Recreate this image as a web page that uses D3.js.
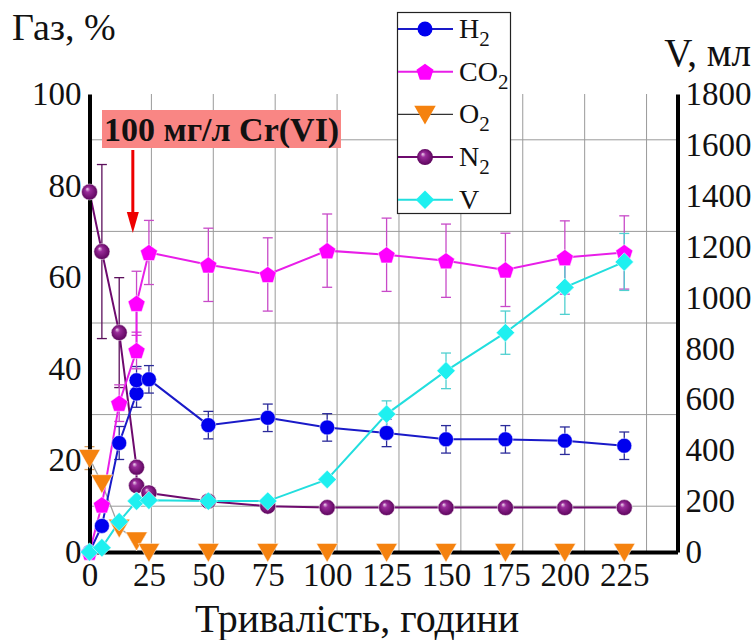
<!DOCTYPE html>
<html>
<head>
<meta charset="utf-8">
<script src="https://cdn.jsdelivr.net/npm/d3@7"></script>
<style>
  body { margin: 0; background: #fff; }
  svg { display: block; }
  text { font-family: "Liberation Serif", "Times New Roman", serif; fill: #111; }
</style>
</head>
<body>
<svg id="chart" width="755" height="640"></svg>
<script>
// Sampling times, hours
const hours = [0, 5, 12, 19, 19, 24, 48, 72, 96, 120, 144, 168, 192, 216];

// Gas composition, % (left axis)
const h2     = [0, 5.7, 23.8, 34.6, 37.5, 37.7, 27.7, 29.3, 27.2, 26.0, 24.6, 24.6, 24.3, 23.2];
const h2Err  = [0, 0, 3.6, 3, 3, 3, 3, 3, 3, 3, 3, 3, 3, 3];
const co2    = [0, 10.3, 32.5, 44.0, 54.3, 65.4, 62.7, 60.6, 65.8, 64.9, 63.6, 61.6, 64.3, 65.4];
const co2Err = [0, 0, 4, 4, 7, 7, 8, 8, 8, 8, 8, 8, 8, 8];
const o2     = [20.5, 15.0, 5.3, 2.5, 2.5, 0, 0, 0, 0, 0, 0, 0, 0, 0];
const o2Err  = [2.5, 0, 0, 0, 0, 0, 0, 0, 0, 0, 0, 0, 0, 0];
const n2     = [78.6, 65.6, 47.9, 18.5, 14.5, 12.9, 11.1, 10.0, 9.7, 9.7, 9.7, 9.7, 9.7, 9.7];
const n2Err  = [0, 19, 12, 0, 0, 0, 0, 0, 0, 0, 0, 0, 0, 0];

// Gas volume, ml (right axis)
const vol    = [0, 17, 119, 200, 200, 203, 200, 200, 285, 542, 712, 862, 1040, 1140];
const volErr = [0, 0, 0, 0, 0, 0, 0, 0, 0, 52, 70, 85, 106, 112];

// Axis ticks
const xTickHours  = [0, 24, 48, 72, 96, 120, 144, 168, 192, 216];
const xTickLabels = ["0", "25", "50", "75", "100", "125", "150", "175", "200", "225"];
const xGridHours  = [25, 50, 75, 100, 125, 150, 175, 200, 225];
const yLeftTicks  = [0, 20, 40, 60, 80, 100];
const yGridPct    = [10, 30, 50, 70, 90];
const yRightTicks = [0, 200, 400, 600, 800, 1000, 1200, 1400, 1600, 1800];

const doseMark = 17.5;   // moment of Cr(VI) addition, hours

const svg = d3.select("#chart");

const x  = d3.scaleLinear().domain([0, 237.5]).range([89.5, 677.5]);
const yL = d3.scaleLinear().domain([0, 100]).range([552, 94]);
const yR = d3.scaleLinear().domain([0, 1800]).range([552, 94]);

// Symbols
const pentagon = { draw(ctx, size) {
  const r = Math.sqrt(size / 2.3776);
  for (let i = 0; i < 5; i++) {
    const a = -Math.PI / 2 + i * 2 * Math.PI / 5;
    const px = r * Math.cos(a), py = r * Math.sin(a) + r * 0.1;
    i ? ctx.lineTo(px, py) : ctx.moveTo(px, py);
  }
  ctx.closePath();
}};
const triDown = { draw(ctx, size) {
  const r = Math.sqrt(size / 1.3);
  ctx.moveTo(-r, -r * 0.8); ctx.lineTo(r, -r * 0.8); ctx.lineTo(0, r * 0.95); ctx.closePath();
}};
const diamond = { draw(ctx, size) {
  const r = Math.sqrt(size / 2);
  ctx.moveTo(0, -r); ctx.lineTo(r, 0); ctx.lineTo(0, r); ctx.lineTo(-r, 0); ctx.closePath();
}};

// Sphere shading for N2 markers
const defs = svg.append("defs");
const grad = defs.append("radialGradient").attr("id", "sphere")
  .attr("cx", "50%").attr("cy", "50%").attr("r", "55%").attr("fx", "35%").attr("fy", "30%");
grad.append("stop").attr("offset", "0%").attr("stop-color", "#f0d8f0");
grad.append("stop").attr("offset", "28%").attr("stop-color", "#9a2c9a");
grad.append("stop").attr("offset", "100%").attr("stop-color", "#560056");

// Grid
const grid = svg.append("g").attr("stroke", "#9a9a9a").attr("stroke-width", 1);
grid.selectAll("line.v").data(xGridHours).join("line").attr("class", "v")
  .attr("x1", d => x(d)).attr("x2", d => x(d)).attr("y1", yL(100)).attr("y2", yL(0));
grid.selectAll("line.h").data(yGridPct).join("line").attr("class", "h")
  .attr("x1", x(0)).attr("x2", x(237.5)).attr("y1", d => yL(d)).attr("y2", d => yL(d));

// Cr(VI) dose annotation
svg.append("rect").attr("x", 102).attr("y", 110).attr("width", 239).attr("height", 38)
  .attr("fill", "#f98684");
svg.append("text").attr("x", 104).attr("y", 141)
  .attr("font-size", 34).attr("font-weight", "bold").text("100 мг/л Cr(VI)");
svg.append("line").attr("x1", x(doseMark)).attr("x2", x(doseMark)).attr("y1", 150).attr("y2", 216)
  .attr("stroke", "#ee0000").attr("stroke-width", 3);
svg.append("path")
  .attr("d", `M${x(doseMark) - 6},212 L${x(doseMark) + 6},212 L${x(doseMark)},233 Z`)
  .attr("fill", "#ee0000");

// Series definitions
const series = [
  { name: "O2",  vals: o2,  err: o2Err,  y: yL, line: "#a0a0a0", lw: 1.3, ec: "#d8a060",
    sym: triDown, size: 150, fill: "#f5820f" },
  { name: "N2",  vals: n2,  err: n2Err,  y: yL, line: "#6e0a6e", lw: 2, ec: "#5c105c",
    sym: null, r: 8, fill: "url(#sphere)" },
  { name: "H2",  vals: h2,  err: h2Err,  y: yL, line: "#1a1ac8", lw: 2, ec: "#2a2a9a",
    sym: null, r: 7.5, fill: "#0000ee" },
  { name: "CO2", vals: co2, err: co2Err, y: yL, line: "#e81ee8", lw: 2, ec: "#c84ac8",
    sym: pentagon, size: 190, fill: "#ff00ff" },
  { name: "V",   vals: vol, err: volErr, y: yR, line: "#22dede", lw: 2, ec: "#50d0d0",
    sym: diamond, size: 170, fill: "#1ef0f0" }
];

series.forEach(s => {
  const pts = hours.map((h, i) => ({ h, v: s.vals[i], e: s.err[i] }));
  const g = svg.append("g");
  // error bars
  const eb = g.selectAll("g.err").data(pts.filter(p => p.e > 0)).join("g")
    .attr("stroke", s.ec).attr("stroke-width", 1.3);
  eb.append("line").attr("x1", p => x(p.h)).attr("x2", p => x(p.h))
    .attr("y1", p => s.y(p.v - p.e)).attr("y2", p => s.y(p.v + p.e));
  eb.append("line").attr("x1", p => x(p.h) - 5).attr("x2", p => x(p.h) + 5)
    .attr("y1", p => s.y(p.v - p.e)).attr("y2", p => s.y(p.v - p.e));
  eb.append("line").attr("x1", p => x(p.h) - 5).attr("x2", p => x(p.h) + 5)
    .attr("y1", p => s.y(p.v + p.e)).attr("y2", p => s.y(p.v + p.e));
  // line
  g.append("path").datum(pts)
    .attr("d", d3.line().x(p => x(p.h)).y(p => s.y(p.v)))
    .attr("fill", "none").attr("stroke", s.line).attr("stroke-width", s.lw);
  s.pts = pts;
});

// Axes
const axisStyle = (g) => {
  g.select(".domain").attr("stroke", "#000").attr("stroke-width", 4);
  g.selectAll("text").attr("font-size", 33).attr("fill", "#111")
    .attr("font-family", "'Liberation Serif', serif");
};
svg.append("g").attr("transform", `translate(${x(0)},0)`)
  .call(d3.axisLeft(yL).tickValues(yLeftTicks).tickSize(0).tickSizeOuter(0).tickPadding(8))
  .call(axisStyle);
svg.append("g").attr("transform", `translate(${x(237.5)},0)`)
  .call(d3.axisRight(yR).tickValues(yRightTicks).tickFormat(d3.format("d"))
    .tickSize(0).tickSizeOuter(0).tickPadding(8))
  .call(axisStyle);
svg.append("g").attr("transform", `translate(0,${yL(0)})`)
  .call(d3.axisBottom(x).tickValues(xTickHours).tickFormat((d, i) => xTickLabels[i])
    .tickSize(0).tickSizeOuter(0).tickPadding(11))
  .call(axisStyle);

// Markers drawn above the axis lines
series.forEach(s => {
  const g = svg.append("g");
  if (s.sym) {
    g.selectAll("path").data(s.pts).join("path")
      .attr("d", d3.symbol().type(s.sym).size(s.size))
      .attr("transform", p => `translate(${x(p.h)},${s.y(p.v)})`)
      .attr("fill", s.fill).attr("stroke", "#ffffff").attr("stroke-opacity", 0.5).attr("stroke-width", 1);
  } else {
    g.selectAll("circle").data(s.pts).join("circle")
      .attr("cx", p => x(p.h)).attr("cy", p => s.y(p.v)).attr("r", s.r)
      .attr("fill", s.fill).attr("stroke", "#ffffff").attr("stroke-opacity", 0.5).attr("stroke-width", 1);
  }
});

// Axis titles
svg.append("text").attr("x", 12).attr("y", 40).attr("font-size", 38).text("Газ, %");
svg.append("text").attr("x", 751).attr("y", 66).attr("font-size", 39)
  .attr("text-anchor", "end").text("V, мл");
svg.append("text").attr("x", 357).attr("y", 632).attr("font-size", 40)
  .attr("text-anchor", "middle").text("Тривалість, години");

// Legend
const legendItems = [
  { base: "H", sub: "2", s: series[2] },
  { base: "CO", sub: "2", s: series[3] },
  { base: "O", sub: "2", s: series[0] },
  { base: "N", sub: "2", s: series[1] },
  { base: "V", sub: "", s: series[4] }
];
const lg = svg.append("g");
lg.append("rect").attr("x", 397.5).attr("y", 12.5).attr("width", 113).attr("height", 201)
  .attr("fill", "#fff").attr("stroke", "#222").attr("stroke-width", 1.2);
legendItems.forEach((it, i) => {
  const cy = 29 + i * 42.7;
  const s = it.s;
  const lineColor = s.name === "O2" ? "#333" : s.line;
  lg.append("line").attr("x1", 398).attr("x2", 453).attr("y1", cy).attr("y2", cy)
    .attr("stroke", lineColor).attr("stroke-width", s.name === "O2" ? 1.2 : 2);
  if (s.sym) {
    lg.append("path").attr("d", d3.symbol().type(s.sym).size(s.size))
      .attr("transform", `translate(425,${cy})`).attr("fill", s.fill);
  } else {
    lg.append("circle").attr("cx", 425).attr("cy", cy).attr("r", s.r).attr("fill", s.fill);
  }
  const t = lg.append("text").attr("x", 459).attr("y", cy + 9).attr("font-size", 28);
  t.append("tspan").text(it.base);
  if (it.sub) t.append("tspan").attr("font-size", 21).attr("dy", 8).text(it.sub);
});
</script>
</body>
</html>
